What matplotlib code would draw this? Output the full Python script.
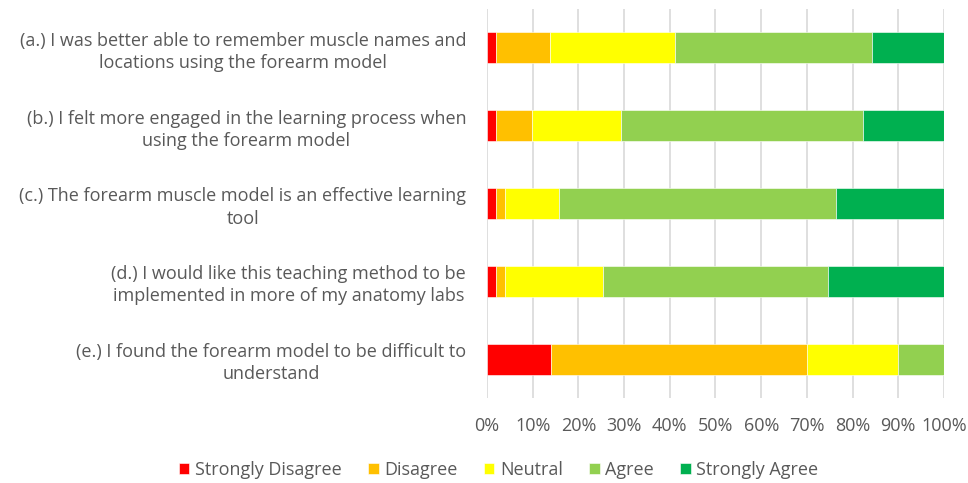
import numpy as np
import matplotlib.pyplot as plt

plt.rcParams['font.family'] = ['Open Sans', 'DejaVu Sans']

questions = [
    '(a.) I was better able to remember muscle names and\nlocations using the forearm model',
    '(b.) I felt more engaged in the learning process when\nusing the forearm model',
    '(c.) The forearm muscle model is an effective learning\ntool',
    '(d.) I would like this teaching method to be\nimplemented in more of my anatomy labs',
    '(e.) I found the forearm model to be difficult to\nunderstand',
]

responses = ['Strongly Disagree', 'Disagree', 'Neutral', 'Agree', 'Strongly Agree']
colors = ['#FF0000', '#FFC000', '#FFFF00', '#92D050', '#00B050']

# percent of students per response, one list per response level (a..e)
strongly_disagree = [1.96, 1.96, 1.96, 1.96, 14.0]
disagree = [11.76, 7.84, 1.96, 1.96, 56.0]
neutral = [27.45, 19.61, 11.76, 21.57, 20.0]
agree = [43.14, 52.94, 60.78, 49.02, 10.0]
strongly_agree = [15.69, 17.65, 23.53, 25.49, 0.0]

series = [strongly_disagree, disagree, neutral, agree, strongly_agree]

grey = '#595959'

fig = plt.figure(figsize=(9.68, 4.83), dpi=100)
ax = fig.add_axes([0.5031, 0.176, 0.4721, 0.8054])

y = np.arange(len(questions))
left = np.zeros(len(questions))
for vals, name, c in zip(series, responses, colors):
    vals = np.array(vals)
    ax.barh(y, vals, left=left, height=0.4, color=c, label=name,
            edgecolor='white', linewidth=0.4, zorder=3)
    left += vals

ax.set_xlim(0, 100)
ax.set_ylim(len(questions) - 0.5, -0.5)
ax.set_xticks(np.arange(0, 101, 10))
ax.set_xticklabels([f'{t}%' for t in range(0, 101, 10)])
ax.set_yticks(y)
ax.set_yticklabels(questions, multialignment='center', linespacing=1.3)
ax.grid(axis='x', color='#D9D9D9', linewidth=1.2, zorder=0)
for s in ax.spines.values():
    s.set_visible(False)
ax.tick_params(axis='y', length=0, pad=15, labelsize=13, labelcolor=grey)
ax.tick_params(axis='x', length=0, pad=14, labelsize=13, labelcolor=grey)

fig.legend(loc='center', bbox_to_anchor=(0.515, 0.027), ncol=5, frameon=False,
           fontsize=13, labelcolor=grey, handlelength=0.6, handleheight=0.6,
           handletextpad=0.3, columnspacing=1.45)

fig.savefig('out.png', dpi=100)
